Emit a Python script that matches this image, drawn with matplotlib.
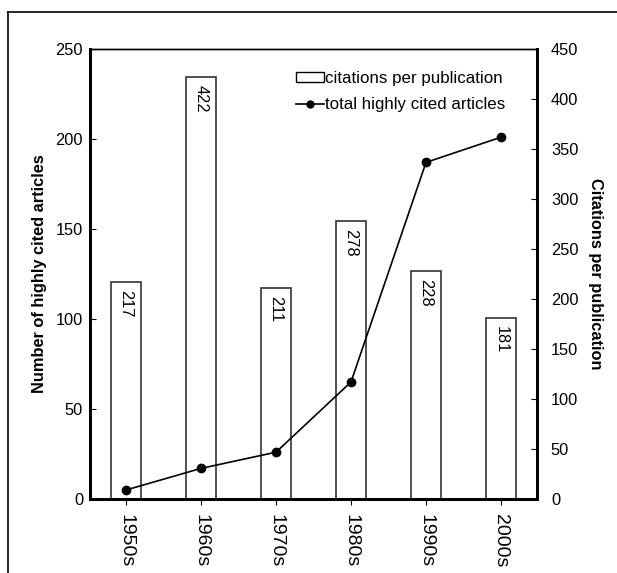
import matplotlib
matplotlib.use("Agg")
import matplotlib.pyplot as plt
from matplotlib.lines import Line2D
from matplotlib.patches import Patch

decades = ["1950s", "1960s", "1970s", "1980s", "1990s", "2000s"]
citations_per_pub = [217, 422, 211, 278, 228, 181]
total_articles = [5, 17, 26, 65, 187, 201]

plt.rcParams['font.family'] = ['Liberation Sans', 'DejaVu Sans']
FS = 11.8

fig = plt.figure(figsize=(6.17, 5.73), dpi=100)
ax = fig.add_axes([90/617, 1-499/573, (537-90)/617, (499-49)/573])
ax2 = ax.twinx()

x = list(range(len(decades)))

# bars on right axis
ax2.bar(x, citations_per_pub, width=0.4, facecolor='white', edgecolor='#333333', linewidth=1.2, zorder=1)
for xi, v in zip(x, citations_per_pub):
    ax2.text(xi, v - 8, str(v), rotation=270, ha='center', va='top', fontsize=FS, zorder=3)
ax2.set_ylim(0, 450)
ax2.set_yticks(range(0, 451, 50))

# line on left axis, drawn on top
ax.set_zorder(ax2.get_zorder() + 1)
ax.patch.set_visible(False)
ax.plot(x, total_articles, color='black', linewidth=1.2, marker='o', markersize=6, zorder=4)
ax.set_ylim(0, 250)
ax.set_yticks(range(0, 251, 50))
ax.set_xlim(-0.48, 5.48)
ax.set_xticks(x)
ax.set_xticklabels(decades, rotation=270, fontsize=14)

ax.tick_params(axis='y', direction='in', length=4, labelsize=FS, pad=5)
ax.tick_params(axis='x', direction='out', length=4, labelsize=14, pad=7)
ax2.tick_params(axis='y', direction='in', length=4, labelsize=FS, pad=10)

for a in (ax, ax2):
    a.spines['left'].set_linewidth(2)
    a.spines['right'].set_linewidth(2)
    a.spines['bottom'].set_linewidth(2)
    a.spines['top'].set_linewidth(1)

ax.set_ylabel("Number of highly cited articles", fontsize=FS, fontweight='bold', labelpad=6)
ax2.set_ylabel("Citations per publication", fontsize=FS, fontweight='bold', rotation=270, labelpad=18)

handles = [Patch(facecolor='white', edgecolor='black', linewidth=1),
           Line2D([0], [0], color='black', marker='o', markersize=5, linewidth=1.2)]
leg = ax.legend(handles, ["citations per publication", "total highly cited articles"],
                loc='upper right', bbox_to_anchor=((505-90)/447, (499-71)/450), frameon=False,
                fontsize=12.2, borderpad=0, borderaxespad=0,
                handlelength=1.65, handleheight=0.5, handletextpad=0.05, labelspacing=0.65)

# outer frame
fig.add_artist(Line2D([8/617, 1.0], [1-12/573, 1-12/573], color='black', linewidth=1.2, transform=fig.transFigure))
fig.add_artist(Line2D([8/617, 8/617], [0, 1-12/573], color='black', linewidth=1.2, transform=fig.transFigure))

fig.savefig("out.png", dpi=100)
